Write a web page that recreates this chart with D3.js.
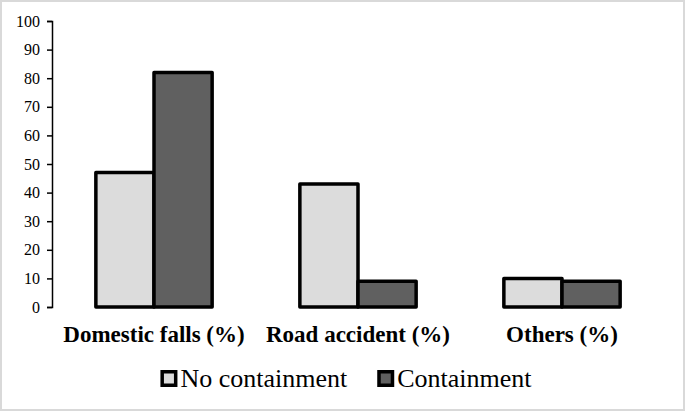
<!DOCTYPE html>
<html>
<head>
<meta charset="utf-8">
<script src="https://cdn.jsdelivr.net/npm/d3@7"></script>
<style>
  html, body { margin: 0; padding: 0; background: #fff; }
  svg { display: block; }
  svg text { font-family: "Liberation Serif", "Times New Roman", "DejaVu Serif", serif; }
</style>
</head>
<body>
<svg id="chart" width="685" height="411"></svg>
<script>
var categories = ["Domestic falls (%)", "Road accident (%)", "Others (%)"];
var seriesNames = ["No containment", "Containment"];
var noContainment = [47, 43, 10];
var containment = [82, 9, 9];
var yTicks = [0, 10, 20, 30, 40, 50, 60, 70, 80, 90, 100];

var colors = ["#dcdcdc", "#606060"];
var width = 685, height = 411;
var margin = { left: 52, right: 21, top: 21, bottom: 104 };

var svg = d3.select("#chart");

// light grey frame round the picture
svg.append("rect")
  .attr("x", 1).attr("y", 1)
  .attr("width", width - 2).attr("height", height - 2)
  .attr("fill", "#fff")
  .attr("stroke", "#d9d9d9")
  .attr("stroke-width", 2);

var x0 = d3.scaleBand()
  .domain(categories)
  .range([margin.left, width - margin.right])
  .paddingInner(0.43)
  .paddingOuter(0.215);

var x1 = d3.scaleBand()
  .domain(seriesNames)
  .range([0, x0.bandwidth()]);

var y = d3.scaleLinear()
  .domain([0, 100])
  .range([height - margin.bottom, margin.top]);

var rows = categories.map(function (c, i) {
  return { cat: c, values: [noContainment[i], containment[i]] };
});

// bars
var groups = svg.append("g").selectAll("g")
  .data(rows)
  .join("g")
  .attr("transform", function (d) { return "translate(" + x0(d.cat) + ",0)"; });

groups.selectAll("rect")
  .data(function (d) {
    return d.values.map(function (v, j) { return { name: seriesNames[j], v: v, j: j }; });
  })
  .join("rect")
  .attr("x", function (d) { return x1(d.name); })
  .attr("y", function (d) { return y(d.v); })
  .attr("width", x1.bandwidth())
  .attr("height", function (d) { return y(0) - y(d.v); })
  .attr("fill", function (d) { return colors[d.j]; })
  .attr("stroke", "#000")
  .attr("stroke-width", 3.5)
  .attr("stroke-linejoin", "round");

// y axis
var yAxis = svg.append("g")
  .attr("transform", "translate(" + margin.left + ",0)")
  .call(d3.axisLeft(y).tickValues(yTicks).tickSize(5).tickSizeOuter(5).tickPadding(7));

yAxis.attr("font-family", null);
yAxis.select(".domain").attr("stroke", "#000").attr("stroke-width", 1.5);
yAxis.selectAll(".tick line").attr("stroke", "#000").attr("stroke-width", 1.5);
yAxis.selectAll("text")
  .attr("font-size", 16)
  .attr("fill", "#000");

// category labels
svg.append("g").selectAll("text")
  .data(categories)
  .join("text")
  .attr("x", function (d) { return x0(d) + x0.bandwidth() / 2; })
  .attr("y", 342)
  .attr("text-anchor", "middle")
  .attr("font-weight", "bold")
  .attr("font-size", 23)
  .attr("fill", "#000")
  .text(function (d) { return d; });

// legend, laid out from the measured text widths
var legend = svg.append("g").attr("transform", "translate(0,370)");
var items = legend.selectAll("g")
  .data(seriesNames)
  .join("g");

items.append("rect")
  .attr("x", 1.75).attr("y", 1.75)
  .attr("width", 13.5).attr("height", 13.5)
  .attr("fill", function (d, i) { return colors[i]; })
  .attr("stroke", "#000")
  .attr("stroke-width", 3.5);

items.append("text")
  .attr("x", 20)
  .attr("y", 17)
  .attr("font-size", 26)
  .attr("fill", "#000")
  .text(function (d) { return d; });

var offsets = [], cur = 0;
items.each(function () {
  offsets.push(cur);
  cur += 20 + this.querySelector("text").getComputedTextLength() + 30;
});
var total = cur - 30;
var start = 346 - total / 2;
items.attr("transform", function (d, i) { return "translate(" + (start + offsets[i]) + ",0)"; });
</script>
</body>
</html>
